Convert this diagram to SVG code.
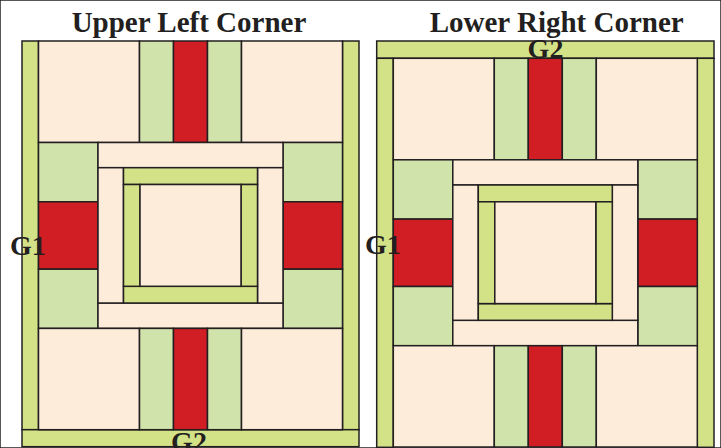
<svg xmlns="http://www.w3.org/2000/svg" width="721" height="448" viewBox="0 0 721 448">
<defs>
<style>
rect{stroke:#231F20;stroke-width:1.5}
.p{fill:#FEECDA}
.g{fill:#D0E3AB}
.l{fill:#D3E187}
.r{fill:#D11E25}
text{font-family:"Liberation Serif","Times New Roman",serif;font-weight:bold;fill:#231F20}
.t{font-size:29px;text-anchor:middle}
.lab{font-size:28px}
</style>
<g id="block">
<rect class="p" x="0" y="0" width="101" height="101.5"/>
<rect class="g" x="101" y="0" width="34" height="101.5"/>
<rect class="r" x="135" y="0" width="34" height="101.5"/>
<rect class="g" x="169" y="0" width="34" height="101.5"/>
<rect class="p" x="203" y="0" width="101" height="101.5"/>
<rect class="g" x="0" y="101.5" width="59.5" height="59.3"/>
<rect class="r" x="0" y="160.8" width="59.5" height="67.4"/>
<rect class="g" x="0" y="228.2" width="59.5" height="59.2"/>
<rect class="g" x="244.5" y="101.5" width="59.5" height="59.3"/>
<rect class="r" x="244.5" y="160.8" width="59.5" height="67.4"/>
<rect class="g" x="244.5" y="228.2" width="59.5" height="59.2"/>
<rect class="p" x="59.5" y="101.5" width="185" height="25.2"/>
<rect class="p" x="59.5" y="262" width="185" height="25.4"/>
<rect class="p" x="59.5" y="126.7" width="25.5" height="135.3"/>
<rect class="p" x="219" y="126.7" width="25.5" height="135.3"/>
<rect class="l" x="85" y="126.7" width="134" height="16.8"/>
<rect class="l" x="85" y="245.3" width="134" height="16.7"/>
<rect class="l" x="85" y="143.5" width="16.5" height="101.8"/>
<rect class="l" x="202.5" y="143.5" width="16.5" height="101.8"/>
<rect class="p" x="101.5" y="143.5" width="101" height="101.8"/>
<rect class="p" x="0" y="287.4" width="101" height="101.3"/>
<rect class="g" x="101" y="287.4" width="34" height="101.3"/>
<rect class="r" x="135" y="287.4" width="34" height="101.3"/>
<rect class="g" x="169" y="287.4" width="34" height="101.3"/>
<rect class="p" x="203" y="287.4" width="101" height="101.3"/>
</g>
</defs>
<rect x="0" y="0" width="721" height="448" fill="#FFFFFF" stroke="none"/>
<g id="upper-left">
<text class="t" x="189" y="31.7">Upper Left Corner</text>
<rect class="l" x="22" y="41" width="16.5" height="388.7"/>
<rect class="l" x="342.5" y="41" width="16.5" height="388.7"/>
<rect class="l" x="22" y="429.7" width="337" height="17"/>
<use href="#block" x="38.5" y="41"/>
<text class="lab" x="10" y="255">G1</text>
<text class="lab" x="189" y="450.5" text-anchor="middle">G2</text>
</g>
<g id="lower-right">
<text class="t" x="556.7" y="31.7">Lower Right Corner</text>
<rect class="l" x="376.7" y="41" width="337.3" height="17.3"/>
<rect class="l" x="376.7" y="58.3" width="16.6" height="389"/>
<rect class="l" x="697.3" y="58.3" width="16.7" height="389"/>
<use href="#block" x="393.3" y="58.3"/>
<text class="lab" x="365" y="254.3">G1</text>
<text class="lab" x="545.5" y="58.3" text-anchor="middle">G2</text>
</g>
</svg>
